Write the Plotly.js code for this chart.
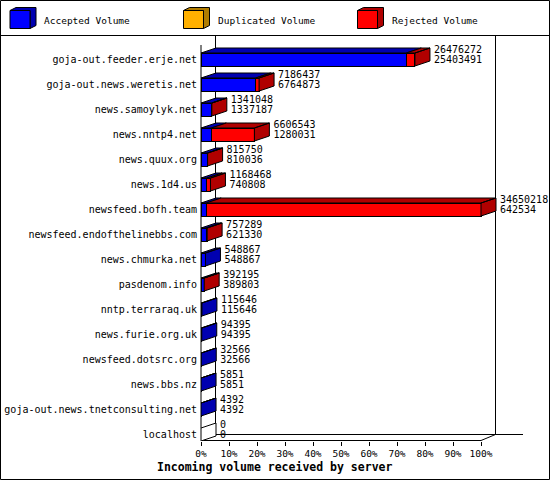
<!DOCTYPE html>
<html>
<head>
<meta charset="utf-8">
<script src="https://cdn.plot.ly/plotly-3.0.1.min.js"></script>
<style>
html, body { margin: 0; padding: 0; background: #fff; }
#chart { width: 550px; height: 480px; }
</style>
</head>
<body>
<div id="chart"></div>
<script>
// servers, top to bottom
const hosts = [
    'goja-out.feeder.erje.net', 'goja-out.news.weretis.net', 'news.samoylyk.net',
    'news.nntp4.net', 'news.quux.org', 'news.1d4.us', 'newsfeed.bofh.team',
    'newsfeed.endofthelinebbs.com', 'news.chmurka.net', 'pasdenom.info',
    'nntp.terraraq.uk', 'news.furie.org.uk', 'newsfeed.dotsrc.org', 'news.bbs.nz',
    'goja-out.news.tnetconsulting.net', 'localhost'
];
const offered = [26476272, 7186437, 1341048, 6606543, 815750, 1168468, 34650218,
    757289, 548867, 392195, 115646, 94395, 32566, 5851, 4392, 0];
const accepted = [25403491, 6764873, 1337187, 1280031, 810036, 740808, 642534,
    621330, 548867, 389803, 115646, 94395, 32566, 5851, 4392, 0];
const duplicated = [0, 0, 0, 0, 0, 0, 0, 0, 0, 0, 0, 0, 0, 0, 0, 0];
const tickPct = [0, 10, 20, 30, 40, 50, 60, 70, 80, 90, 100];

const seriesNames = ['Accepted Volume', 'Duplicated Volume', 'Rejected Volume'];
const frontCol = ['#0000ff', '#ffb000', '#ff0000'];
const sideCol = ['#0000b0', '#b07c00', '#b00000'];

// plot box in pixels
const L = 201, R = 523, T = 40, B = 441;
const PXPCT = 2.8;             // pixels per percent
const ROW = 25;                // pixels per row
const XMAX = (R - L) / PXPCT;
const Y0 = 59.5;               // pixel of first row centre
const DX = 15 / PXPCT;         // 3d depth
const DY = 5 / ROW;
const HALF = 6.5 / ROW;
const LBLPAD = 4 / PXPCT;

const maxVal = Math.max(...offered);
const pct = v => v / maxVal * 100;
const rejected = offered.map((t, i) => t - accepted[i] - duplicated[i]);
const idx = hosts.map((h, i) => i);

const segs = [accepted, duplicated, rejected];
let traces = [];

// front faces
segs.forEach((s, k) => {
    traces.push({
        type: 'bar', orientation: 'h', name: seriesNames[k],
        y: idx, x: s.map(pct), width: 2 * HALF,
        marker: { color: frontCol[k], line: { color: '#000', width: 1 } },
        hoverinfo: 'skip'
    });
});

// top and side faces
let polys = [[], [], []].map(() => ({ x: [], y: [] }));
let empty = { x: [], y: [] };
function addPoly(p, pts) {
    pts.forEach(q => { p.x.push(q[0]); p.y.push(q[1]); });
    p.x.push(pts[0][0]); p.y.push(pts[0][1]);
    p.x.push(null); p.y.push(null);
}
idx.forEach(i => {
    let start = 0, last = -1, lastEnd = 0;
    const top = i - HALF, bot = i + HALF;
    segs.forEach((s, k) => {
        const w = pct(s[i]);
        if (s[i] > 0) {
            const x0 = start, x1 = start + w;
            addPoly(polys[k], [[x0, top], [x1, top], [x1 + DX, top - DY], [x0 + DX, top - DY]]);
            last = k; lastEnd = x1;
        }
        start += w;
    });
    const side = [[lastEnd, top], [lastEnd + DX, top - DY], [lastEnd + DX, bot - DY], [lastEnd, bot]];
    if (last >= 0) addPoly(polys[last], side);
    else addPoly(empty, side);
});
polys.forEach((p, k) => {
    traces.push({
        type: 'scatter', mode: 'lines', x: p.x, y: p.y, fill: 'toself',
        fillcolor: sideCol[k], line: { color: '#000', width: 1 },
        hoverinfo: 'skip', connectgaps: false
    });
});
traces.push({
    type: 'scatter', mode: 'lines', x: empty.x, y: empty.y, fill: 'toself',
    fillcolor: '#fff', line: { color: '#000', width: 1 }, hoverinfo: 'skip'
});

// value labels
const lblFont = { family: 'DejaVu Sans Mono', size: 10, color: '#000' };
traces.push({
    type: 'scatter', mode: 'text', x: offered.map(v => pct(v) + DX + LBLPAD),
    y: idx.map(i => i - 0.38), text: offered.map(String),
    textposition: 'middle right', textfont: lblFont, cliponaxis: false, hoverinfo: 'skip'
});
traces.push({
    type: 'scatter', mode: 'text', x: offered.map(v => pct(v) + DX + LBLPAD),
    y: idx.map(i => i + 0.05), text: accepted.map(String),
    textposition: 'middle right', textfont: lblFont, cliponaxis: false, hoverinfo: 'skip'
});

// pixel -> paper helpers for the frame
const fx = p => (p - L) / (R - L);
const fy = p => (B - p) / (B - T);
function line(x0, y0, x1, y1) {
    return { type: 'line', xref: 'paper', yref: 'paper', x0: fx(x0), y0: fy(y0), x1: fx(x1), y1: fy(y1),
        line: { color: '#000', width: 1 }, layer: 'below' };
}
let shapes = [
    { type: 'rect', xref: 'paper', yref: 'paper', x0: fx(0.5), x1: fx(549.5), y0: fy(0.5), y1: fy(479.5),
      line: { color: '#000', width: 1 } },
    line(0, 35.5, 550, 35.5),
    line(215.5, 36, 215.5, 434.5),
    line(495.5, 36, 495.5, 434.5),
    line(215.5, 434.5, 523, 434.5),
    line(201, 440.5, 481, 440.5),
    line(201, 45, 201, 441),
    line(201, 440.5, 215.5, 434.5),
    line(481, 440.5, 495.5, 434.5)
];

// legend cubes
const legX = [10, 183.5, 357.5];
const legTextX = [42, 216, 390];
let annotations = [];
legX.forEach((x, k) => {
    const p = (a, b) => fx(a) + ',' + fy(b);
    shapes.push({
        type: 'path', xref: 'paper', yref: 'paper',
        path: 'M' + p(x, 10.5) + 'L' + p(x + 6, 7.5) + 'L' + p(x + 26, 7.5) + 'L' + p(x + 26, 25.5) +
              'L' + p(x + 20, 28.5) + 'L' + p(x + 20, 10.5) + 'Z',
        fillcolor: sideCol[k], line: { color: '#000', width: 1 }
    });
    shapes.push({
        type: 'rect', xref: 'paper', yref: 'paper', x0: fx(x), x1: fx(x + 20), y0: fy(10.5), y1: fy(28.5),
        fillcolor: frontCol[k], line: { color: '#000', width: 1 }
    });
    annotations.push({
        xref: 'paper', yref: 'paper', x: fx(legTextX[k]), y: fy(20), xanchor: 'left', yanchor: 'middle',
        text: seriesNames[k], showarrow: false,
        font: { family: 'DejaVu Sans Mono', size: 9.5, color: '#000' }
    });
});
annotations.push({
    xref: 'paper', yref: 'paper', x: fx(274), y: fy(467), xanchor: 'center', yanchor: 'middle',
    text: '<b>Incoming volume received by server</b>', showarrow: false,
    font: { family: 'DejaVu Sans Mono', size: 11.5, color: '#000' }
});

const layout = {
    width: 550, height: 480,
    margin: { l: L, r: 550 - R, t: T, b: 480 - B, pad: 0 },
    paper_bgcolor: '#fff', plot_bgcolor: '#fff',
    showlegend: false, barmode: 'stack',
    font: { family: 'DejaVu Sans Mono', size: 10, color: '#000' },
    xaxis: {
        range: [0, XMAX], showgrid: false, zeroline: false, showline: false,
        tickvals: tickPct, ticktext: tickPct.map(v => v + '%'),
        ticks: 'outside', ticklen: 4, tickcolor: '#000', tickwidth: 1,
        tickfont: { family: 'DejaVu Sans Mono', size: 9.5, color: '#000' }
    },
    yaxis: {
        range: [(B - Y0) / ROW, -(Y0 - T) / ROW], showgrid: false, zeroline: false, showline: false,
        tickvals: idx, ticktext: hosts, ticks: '', ticklabelstandoff: 3,
        tickfont: { family: 'DejaVu Sans Mono', size: 10, color: '#000' }
    },
    shapes: shapes,
    annotations: annotations
};

Plotly.newPlot('chart', traces, layout, { displayModeBar: false, staticPlot: true });
</script>
</body>
</html>
